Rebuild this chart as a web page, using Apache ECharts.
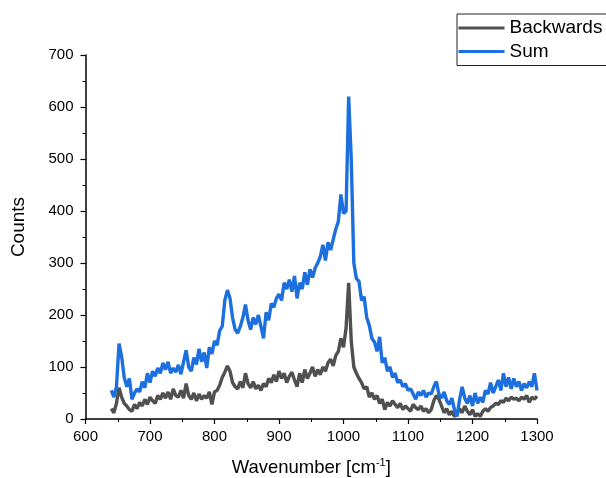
<!DOCTYPE html>
<html>
<head>
<meta charset="utf-8">
<script src="https://cdn.jsdelivr.net/npm/echarts@6/dist/echarts.min.js"></script>
<style>
html,body{margin:0;padding:0;background:#fff;}
#chart{width:606px;height:478px;}
</style>
</head>
<body>
<div id="chart"></div>
<script>
var wavenumber = [
640,644,648,652,656,660,664,668,672,676,
680,684,688,692,696,700,704,708,712,716,
720,724,728,732,736,740,744,748,752,756,
760,764,768,772,776,780,784,788,792,796,
800,804,808,812,816,820,824,828,832,836,
840,844,848,852,856,860,864,868,872,876,
880,884,888,892,896,900,904,908,912,916,
920,924,928,932,936,940,944,948,952,956,
960,964,968,972,976,980,984,988,992,996,
1000,1004,1008,1012,1016,1020,1024,1028,1032,1036,
1040,1044,1048,1052,1056,1060,1064,1068,1072,1076,
1080,1084,1088,1092,1096,1100,1104,1108,1112,1116,
1120,1124,1128,1132,1136,1140,1144,1148,1152,1156,
1160,1164,1168,1172,1176,1180,1184,1188,1192,1196,
1200,1204,1208,1212,1216,1220,1224,1228,1232,1236,
1240,1244,1248,1252,1256,1260,1264,1268,1272,1276,
1280,1284,1288,1292,1296,1300
];
var backwards = [
20,12,30,60,42,30,25,18,15,28,
20,32,25,38,28,42,35,30,45,38,
50,40,52,38,58,45,42,55,40,68,
45,38,50,35,48,38,45,40,52,28,
52,55,65,80,90,102,92,70,62,58,
72,60,88,68,60,72,58,65,55,68,
62,78,70,85,72,92,78,88,70,82,
90,75,62,88,70,95,78,88,100,82,
95,85,100,92,108,115,102,122,130,155,
138,175,262,150,100,88,78,70,58,62,
42,50,38,45,30,38,18,32,25,35,
28,22,30,18,25,20,15,28,22,18,
25,15,20,12,18,35,45,38,25,12,
20,8,15,5,10,20,12,25,15,8,
18,5,10,5,15,20,15,22,25,30,
28,35,32,40,35,42,38,40,35,42,
38,45,32,42,38,44
];
var sum = [
55,42,62,145,120,80,62,78,38,50,
58,52,72,60,88,70,92,82,98,88,
108,95,110,88,98,90,104,86,110,132,
100,92,118,105,135,110,128,98,138,125,
150,142,170,178,228,248,232,195,172,165,
178,195,220,190,172,195,182,200,178,155,
205,190,222,215,232,240,228,262,250,268,
245,275,232,262,250,282,258,288,272,290,
300,312,335,305,340,325,345,365,380,432,
395,400,620,500,300,270,265,228,235,195,
180,155,148,130,158,108,118,92,100,80,
88,70,75,62,68,55,58,48,38,52,
45,55,42,50,48,62,72,48,40,52,
35,28,40,18,5,38,62,40,30,45,
25,50,30,42,32,55,48,70,50,62,
75,55,88,62,80,58,78,62,72,55,
68,60,72,62,88,55
];
var xTicks = [600,700,800,900,1000,1100,1200,1300];
var yTicks = [0,100,200,300,400,500,600,700];

function pairs(xs, ys){ var out=[]; for(var i=0;i<xs.length;i++){ out.push([xs[i], ys[i]]); } return out; }

var FONT = '"Liberation Sans", Arial, sans-serif';
var GRAY = '#505050', BLUE = '#1c6fdd';
var chart = echarts.init(document.getElementById('chart'), null, {renderer:'canvas'});
chart.setOption({
  animation:false,
  backgroundColor:'#fff',
  grid:{left:85.5, right:69, top:55, bottom:59, containLabel:false, outerBoundsMode:'none'},
  legend:{
    orient:'vertical', left:457, top:14,
    data:['Backwards','Sum'],
    icon:'rect',
    itemWidth:46, itemHeight:3, itemGap:4.5,
    borderColor:'#222', borderWidth:1, padding:[4.5,30,4.5,1.5],
    textStyle:{fontFamily:FONT, fontSize:19, color:'#000'}
  },
  xAxis:{
    type:'value', min:600, max:1300, interval:100,
    name:'Wavenumber [cm{sup|-1}]', nameLocation:'middle', nameGap:38,
    nameTextStyle:{fontFamily:FONT, fontSize:18.5, color:'#000',
      rich:{sup:{fontFamily:FONT, fontSize:11, verticalAlign:'top', padding:[0,0,10,0], color:'#000'}}},
    axisLine:{onZero:false, lineStyle:{color:'#000', width:1.5}},
    axisTick:{show:true, inside:false, length:5, lineStyle:{color:'#000', width:1.2}},
    minorTick:{show:true, splitNumber:2, length:3, lineStyle:{color:'#000', width:1}},
    axisLabel:{fontFamily:FONT, fontSize:15, color:'#000', margin:10,
      formatter:function(v){return xTicks.indexOf(v)>=0? String(v):'';}},
    splitLine:{show:false}
  },
  yAxis:{
    type:'value', min:0, max:700, interval:100,
    name:'Counts', nameLocation:'middle', nameGap:57,
    nameTextStyle:{fontFamily:FONT, fontSize:19, color:'#000', padding:[0,0,0,20]},
    axisLine:{show:true, lineStyle:{color:'#000', width:1.5}},
    axisTick:{show:true, inside:false, length:5, lineStyle:{color:'#000', width:1.2}},
    minorTick:{show:true, splitNumber:2, length:3, lineStyle:{color:'#000', width:1}},
    axisLabel:{fontFamily:FONT, fontSize:15, color:'#000', margin:12,
      formatter:function(v){return yTicks.indexOf(v)>=0? String(v):'';}},
    splitLine:{show:false}
  },
  series:[
    {name:'Backwards', type:'line', data:pairs(wavenumber, backwards), showSymbol:false, symbol:'none',
     color:GRAY, lineStyle:{color:GRAY, width:3.4}, z:2},
    {name:'Sum', type:'line', data:pairs(wavenumber, sum), showSymbol:false, symbol:'none',
     color:BLUE, lineStyle:{color:BLUE, width:3.4}, z:3}
  ]
});
</script>
</body>
</html>
